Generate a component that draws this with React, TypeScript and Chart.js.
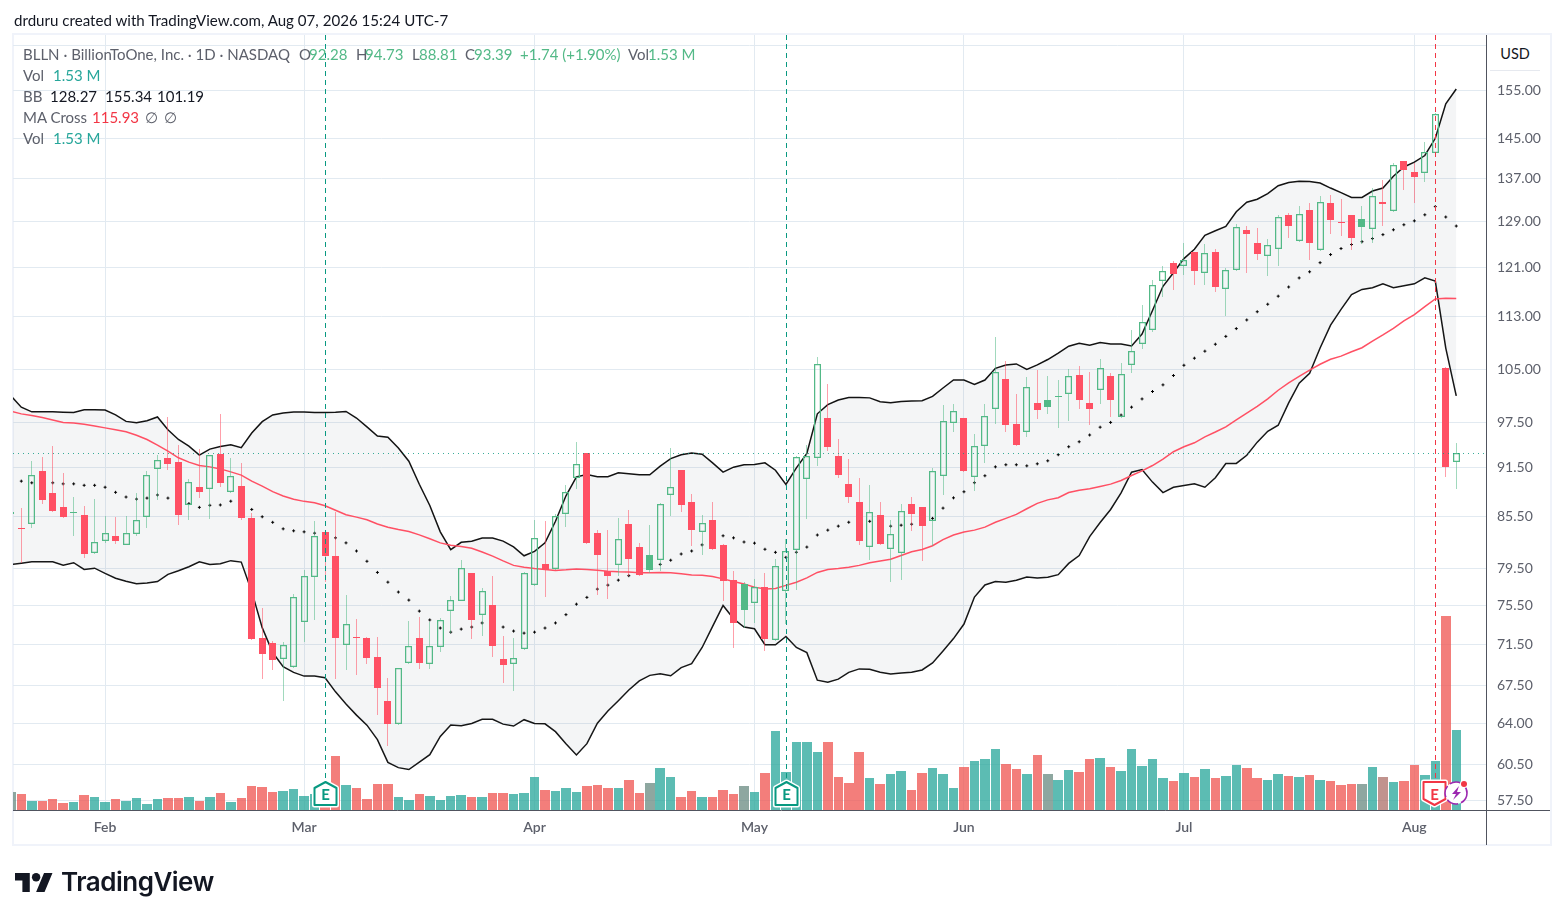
import React, { useEffect, useRef } from "react";
import { Chart, registerables } from "chart.js";

Chart.register(...registerables);

// ---------- chart data ----------
const opens = [
  86.0,84.1,84.66,91.16,88.39,86.63,85.95,85.62,81.19,82.67,
  83.2,82.21,83.48,85.42,91.33,92.72,92.2,86.92,89.15,88.81,
  93.24,88.43,89.27,85.27,72.15,71.64,70.04,69.26,73.78,78.54,
  83.68,80.93,71.4,72.25,72.15,70.27,66.07,64,69.71,72.15,
  69.6,71.27,74.88,76.02,79,74.5,75.57,70.07,69.55,71.08,
  77.68,80,79.46,85.79,90.22,93.48,83.6,79.25,79.93,84.6,
  81.98,81.05,80.5,88.1,91.17,87.2,83.64,85.11,82.21,78.25,
  77.82,75.8,77.5,71.98,77,81.55,90.12,92.8,98.15,93.07,
  89.42,87.25,81.92,85.67,81.69,81.23,87.04,86.63,84.92,90.5,
  97.37,98.1,90.37,94.33,99.29,103.63,97.28,96.15,100.2,100.58,
  101.15,101.41,104.2,100.23,101.98,104.06,98.3,105.7,108.85,110.95,
  118.76,121.75,121.35,123.67,120.16,123.67,117.46,120.6,127.5,125.23,
  123.03,124.24,130.2,125.64,131.1,124.13,132.54,129.05,130.18,129.62,
  127.78,132.35,131.05,140.38,138.24,138.1,142,105.2,92.28,
];
const highs = [
  86.5,86.5,92.33,92.85,94.28,90.91,87.89,86.76,87.64,85.5,
  85.39,85.5,88.39,91.16,93.1,98.2,94.41,90.15,93.89,93.2,
  98.6,92.72,92.07,85.97,75.26,71.85,71.74,76.7,79.32,84.99,
  83.7,86.04,76.6,74.12,72.2,72.26,68.2,69.2,73.9,74.33,
  73.82,74.17,76.5,80.47,79,77.4,78.68,72.37,72.15,79.1,
  85.09,85,85.85,89.31,94.85,93.5,83.95,83.95,85.33,86.33,
  82.37,84.53,87.15,94.14,91.2,88.2,85.71,87.2,82.25,79.2,
  78.03,78.36,79,80.58,82.8,93,94.5,106.9,102.9,95.33,
  92.59,90.17,89.29,87.29,85.08,87.04,87.91,86.65,91.5,99.93,
  100.07,98.15,95.98,100.07,109.87,106.18,101.4,103.9,104.9,104.06,
  103.49,105,105.5,104.6,106.55,104.5,106,110.9,114.85,118.9,
  121.35,122.1,125.23,123.7,125.05,124.2,121,128.7,128.35,127.84,
  125.95,130.2,130.55,131.85,132.4,133.7,133.9,133.15,130.2,131.85,
  135.2,136.7,140.1,140.4,140,144.3,150.2,105.3,94.73,
];
const lows = [
  85.5,80.08,84.16,87.0,86.1,85.3,83.2,80.72,81.15,82.37,
  82.29,82.2,83.2,84.12,87.43,91.29,84.47,85.08,87.76,85.2,
  89.15,88.4,85.04,71.95,68.15,68.99,66.1,69.2,71.74,73.95,
  78.0,68.15,69.03,68.54,69.58,64.8,62.02,63.95,69.6,69.09,
  69.09,70.75,72.7,76,72.05,72.37,70.27,67.73,67.01,71.05,
  77.6,76.36,79.4,84.22,88.81,82.35,76.57,76.21,78.71,78.71,
  78.71,78.96,79.18,85.58,86.08,82.09,81.05,81.7,76,71.1,
  73.2,73.7,70.85,71.95,73.6,77.18,85.19,91.7,93.67,90.2,
  87.08,82.1,80.46,82.2,78.07,78.29,83.73,80.39,82,88.16,
  96.15,91,88.54,92.07,97.33,96.24,94.33,95.5,97.97,98.68,
  96.8,97.74,99.3,97.12,100.1,98.26,98.25,104.48,108.05,110.65,
  116.2,117.37,119.71,118.05,118.05,117.05,113.17,120.55,120.2,122.3,
  119.55,121.23,126.1,125.6,122.33,124.1,126.8,126.5,124.02,125.06,
  125.29,128.2,131,134.83,132.42,136.5,141.9,90.3,88.81,
];
const closes = [
  85.8,84.0,90.62,87.52,86.13,85.39,86.0,81.15,82.48,83.5,
  82.63,83.5,85.12,90.62,92.54,91.94,85.62,89.74,88.52,93.2,
  89.65,90.49,85.27,72.05,70.56,69.97,71.4,76.36,78.64,83.2,
  80.85,72.19,73.57,72.2,70.17,67.26,63.97,69.16,71.3,69.68,
  71.3,73.99,76.05,79.6,74.03,77.04,71.34,69.48,70.14,78.96,
  82.98,79.39,85.54,88.52,92.02,82.44,81.05,78.68,82.87,80.58,
  78.79,79.32,87.03,89.14,86.82,83.95,84.73,81.75,78.14,73.7,
  75.05,77.46,72.05,79.8,81.46,92.92,93.07,105.85,94.2,90.58,
  87.91,82.57,86.08,82.23,83.42,86.13,85.83,84.42,91.12,97.76,
  99.06,91.04,94.37,98.35,104.62,97.15,94.41,102.45,99.24,99.68,
  101.2,104.01,100.66,99.38,105.15,100.66,104.3,107.7,112.2,118.15,
  120.5,119.88,122.39,120.38,123.6,117.88,120.66,128.13,126.8,123.3,
  125,129.93,128.19,130.5,125.29,132.72,129.3,129,126.16,128.07,
  133.84,132.72,139.73,138.7,137.33,142.27,150,91.65,93.39,
];
const volumesM = [
  .344,.306,.179,.172,.21,.134,.153,.287,.249,.153,
  .21,.172,.23,.115,.21,.23,.23,.249,.172,.249,
  .325,.153,.23,.459,.44,.344,.363,.402,.268,.306,
  .255,1.033,.478,.421,.21,.497,.497,.249,.191,.306,
  .268,.191,.268,.287,.249,.249,.325,.325,.306,.325,
  .631,.383,.363,.421,.344,.459,.478,.421,.421,.574,
  .325,.516,.803,.631,.249,.363,.249,.249,.383,.306,
  .459,.344,.708,1.511,.727,1.3,1.3,1.109,1.3,.631,
  .516,1.109,.612,.497,.689,.746,.383,.708,.803,.689,
  .421,.822,.937,.975,1.167,.88,.784,.689,1.052,.689,
  .574,.765,.727,.975,.995,.822,.746,1.167,.842,.975,
  .612,.555,.708,.631,.784,.612,.65,.861,.803,.612,
  .574,.689,.65,.631,.669,.574,.555,.478,.497,.497,
  .822,.631,.536,.555,.861,.669,.937,3.71,1.53,
];
const bbUpper = [
  101.2,99.6,98.95,98.95,98.95,98.9,98.86,99.24,99.24,99.19,
  98.53,97.64,97.46,97.73,98.25,96.5,95.2,94.33,93.15,93.93,
  94.28,94.5,94.11,96.07,97.6,98.53,98.8,98.93,98.93,98.87,
  98.87,98.9,99.0,98.1,96.9,95.67,95.5,94.08,92.36,89.43,
  86.82,83.68,81.62,82.47,82.6,82.95,82.95,82.6,81.94,80.93,
  81.43,82.4,84.92,88.0,90.36,90.67,90.38,90.38,90.88,90.75,
  90.63,90.63,91.72,92.7,93.2,93.43,93.26,92.15,90.96,91.59,
  91.89,91.93,92.15,91.2,89.4,91.5,93.37,98.68,99.95,100.6,
  100.95,100.95,100.9,100.36,100.2,100.4,100.45,100.5,101.1,102.3,
  103.45,103.45,102.8,103.45,105.15,105.65,105.8,105,105.65,106.45,
  107.4,108.45,108.9,108.6,109,108.8,108.8,108.5,110.3,114,
  117.92,120.16,122.57,124.19,126.62,127.43,128.19,130.86,132.6,133.16,
  134.2,135.7,136.32,136.57,136.5,136.2,135.26,134.4,133.5,133.5,
  134.7,135.26,137.52,139.3,140.25,141.55,145,152.15,155.34,
];
const bbLower = [
  79.96,80.1,80.26,80.26,80.26,79.88,80.15,79.4,79.54,78.96,
  78.43,78.1,77.82,77.9,78.07,78.86,79.25,79.7,80.26,79.96,
  80.03,80.38,80.22,77,73.2,70.7,69.32,68.77,68.41,68.41,
  68.25,66.92,65.8,64.78,63.88,62.6,60.64,60.2,60.04,60.67,
  61.3,62.88,63.9,63.82,64.03,64.4,64.4,63.97,63.8,64.37,
  64.03,64,63.3,62.25,61.27,62.25,64.05,65.15,66.1,67.09,
  67.96,68.48,68.64,68.44,69.22,69.61,71.2,73.33,75.5,74.11,
  73.26,73.09,71.47,71.47,72.3,71.2,70.69,68.02,67.83,68.12,
  68.77,69.1,69.06,68.77,68.61,68.7,68.77,69,69.68,70.85,
  72.09,73.57,76.39,77.69,78.06,78,78.2,78.57,78.46,78.54,
  78.82,80.07,80.95,83.13,84.77,86.34,88.36,90.95,91.29,89.7,
  88.4,89.06,89.27,89.48,89.06,90.24,92.07,92.07,93.13,94.85,
  96.3,97.12,100.19,103,104.43,108.17,111.7,114.17,116.56,117.4,
  117.67,118.33,117.67,118,118.33,119.33,118.78,108.17,101.19,
];
const bbBasis = [
  90.0,89.82,89.61,89.6,89.61,89.48,89.48,89.3,89.3,89.06,
  88.43,87.85,87.6,87.72,88.1,87.72,87.43,87.05,86.59,86.84,
  86.88,87.34,87,86.34,85.46,84.8,84.03,83.8,83.68,83.53,
  83.25,82.98,82.4,81.47,80.31,79.07,78,76.93,76.07,74.91,
  73.99,73.16,72.74,73.05,73.26,73.68,73.5,73.26,72.85,72.64,
  72.74,73.16,73.68,74.54,75.64,76.36,77.25,77.68,78.22,78.71,
  79.5,79.89,79.96,80.43,81.13,81.47,82.17,82.8,83.22,82.98,
  82.5,82.37,81.67,81.32,80.75,81.33,81.92,83.31,83.88,84.35,
  84.81,84.9,84.92,84.7,84.35,84.46,84.58,84.88,85.27,86.5,
  87.75,88.5,89.62,90.5,91.63,91.9,91.9,91.76,92.02,92.41,
  93.2,94.24,94.9,95.8,96.85,97.5,98.5,99.6,100.75,101.8,
  102.75,104.1,105.6,106.65,107.7,108.75,109.95,111.15,112.5,113.8,
  115,116.3,117.8,119.3,120.33,121.87,123.26,124.3,125,125.5,
  126.04,126.74,127.6,128.5,129.2,130.3,131.8,129.9,128.27,
];
const maCross = [
  99.05,98.67,98.44,98.16,97.83,97.5,97.41,97.24,97.02,96.76,
  96.5,96.24,95.76,95.2,94.46,93.67,92.8,92.24,91.8,91.63,
  91.37,90.99,90.58,89.82,89.19,88.52,87.98,87.57,87.32,87.15,
  86.78,86.25,85.71,85.42,85.11,84.61,84.22,83.95,83.72,83.33,
  82.87,82.4,82.13,81.98,81.78,81.36,80.89,80.35,79.85,79.65,
  79.5,79.39,79.29,79.36,79.46,79.39,79.32,79.21,79.14,79.11,
  79.04,79.04,79.07,79.04,78.93,78.79,78.75,78.61,78.36,78.07,
  77.79,77.46,77.25,77.32,77.65,78.0,78.47,79.07,79.39,79.5,
  79.65,79.85,80.15,80.35,80.54,80.96,81.39,81.65,82.07,82.77,
  83.31,83.65,83.88,84.23,84.81,85.27,85.75,86.42,87.08,87.5,
  87.77,88.4,88.69,88.86,89.15,89.45,89.9,90.53,91.12,91.8,
  92.63,93.59,94.24,94.76,95.55,96.2,96.9,97.83,98.77,99.7,
  100.75,101.98,103.02,103.96,104.9,105.75,106.5,106.96,107.62,108.22,
  109.23,110.18,111.19,112.35,113.33,114.62,115.84,115.95,115.93,
];
const priceTicks = [165, 155, 145, 137, 129, 121, 113, 105, 97.5, 91.5, 85.5, 79.5, 75.5, 71.5, 67.5, 64, 60.5, 57.5];
const monthTickIndex = [9, 28, 50, 71, 91, 112, 134];
const monthLabels = ["Feb", "Mar", "Apr", "May", "Jun", "Jul", "Aug"];
const earningsBeat = [30, 74];
const earningsMiss = [136];
const lastSession = 138;

// ---------- styling ----------
const UI_FONT = "Lato, 'Noto Sans', sans-serif";
const UP = "#53B987";
const DOWN = "#FF5064";
const UP_WICK = "rgba(83,185,135,0.55)";
const DOWN_WICK = "rgba(255,80,100,0.55)";
const VOL_UP = "rgba(38,166,154,0.5)";
const VOL_DOWN = "rgba(239,83,80,0.5)";
const GRID = "#E2EAF1";
const GREY = "#5D606B";
const TEAL = "#089981";
const CRIMSON = "#F23645";

const idx = opens.map((_, i) => i);
const prevClose = (i: number) => (i === 0 ? closes[0] : closes[i - 1]);
const isUp = (i: number) => closes[i] >= prevClose(i);
const isHollow = (i: number) => closes[i] > opens[i] && closes[i] - opens[i] > 0.2;

const snapBars = {
  id: "snapBars",
  afterDatasetsUpdate(chart: any) {
    chart.data.datasets.forEach((ds: any, k: number) => {
      if (ds.type === "line") return;
      const w = ds.snapWidth;
      chart.getDatasetMeta(k).data.forEach((el: any) => {
        if (el.skip || !isFinite(el.x) || !isFinite(el.y) || !isFinite(el.base)) return;
        const left = Math.round(el.x - w / 2);
        const right = Math.max(left + 1, Math.round(el.x + w / 2));
        el.x = (left + right) / 2;
        el.width = right - left;
        const top = Math.round(Math.min(el.y, el.base));
        let bottom = Math.round(Math.max(el.y, el.base));
        if (bottom <= top) bottom = top + 1;
        el.y = top;
        el.base = bottom;
      });
    });
  },
};

const frame = {
  id: "frame",
  beforeDraw(chart: any) {
    const { ctx } = chart;
    ctx.save();
    ctx.fillStyle = "#fff";
    ctx.fillRect(0, 0, 1564, 920);
    ctx.strokeStyle = "#F0F3FA";
    ctx.lineWidth = 2;
    ctx.strokeRect(13, 34, 1538, 811);
    ctx.restore();
  },
  afterDatasetsDraw(chart: any) {
    const { ctx, chartArea: a, scales } = chart;
    const x = scales.x;
    const y = scales.y;
    const snapX = (i: number) => Math.round(x.getPixelForValue(i)) + 0.5;
    ctx.save();
    // last price line
    const py = Math.round(y.getPixelForValue(closes[lastSession])) + 0.5;
    ctx.strokeStyle = TEAL;
    ctx.globalAlpha = 0.8;
    ctx.lineWidth = 1;
    ctx.setLineDash([1, 4]);
    ctx.beginPath();
    ctx.moveTo(a.left, py);
    ctx.lineTo(a.right, py);
    ctx.stroke();
    ctx.globalAlpha = 1;
    // earnings verticals
    ctx.setLineDash([5, 4]);
    const vline = (i: number, c: string) => {
      const px = snapX(i);
      ctx.strokeStyle = c;
      ctx.beginPath();
      ctx.moveTo(px, a.top);
      ctx.lineTo(px, 782);
      ctx.stroke();
    };
    earningsBeat.forEach((i) => vline(i, TEAL));
    earningsMiss.forEach((i) => vline(i, CRIMSON));
    ctx.setLineDash([]);
    // axis rules
    ctx.strokeStyle = "#50535E";
    ctx.lineWidth = 1;
    ctx.beginPath();
    ctx.moveTo(a.left, 810.5);
    ctx.lineTo(1550, 810.5);
    ctx.moveTo(1486.5, a.top);
    ctx.lineTo(1486.5, 845);
    ctx.stroke();
    // earnings flags
    const flag = (cx: number, pts: number[][], c: string) => {
      const path = () => {
        ctx.beginPath();
        pts.forEach(([dx, yy], n) => (n ? ctx.lineTo(cx + dx, yy) : ctx.moveTo(cx + dx, yy)));
        ctx.closePath();
      };
      ctx.lineJoin = "round";
      path();
      ctx.strokeStyle = "#fff";
      ctx.lineWidth = 5;
      ctx.stroke();
      path();
      ctx.fillStyle = "#fff";
      ctx.fill();
      ctx.strokeStyle = c;
      ctx.lineWidth = 2;
      ctx.stroke();
      ctx.fillStyle = c;
      ctx.font = `700 15px ${UI_FONT}`;
      ctx.textAlign = "center";
      ctx.textBaseline = "middle";
      ctx.fillText("E", cx, 795);
    };
    const upPts = [[0, 782], [11, 788], [11, 805], [-11, 805], [-11, 788]];
    const downPts = [[-11, 782], [11, 782], [11, 799], [0, 805], [-11, 799]];
    earningsBeat.forEach((i) => flag(snapX(i), upPts, TEAL));
    earningsMiss.forEach((i) => flag(snapX(i) - 1, downPts, CRIMSON));
    // news badge
    const bx = Math.round(x.getPixelForValue(lastSession));
    const by = 793;
    ctx.beginPath();
    ctx.arc(bx, by, 11, 0, Math.PI * 2);
    ctx.fillStyle = "#fff";
    ctx.fill();
    ctx.strokeStyle = "#9C27B0";
    ctx.lineWidth = 1.6;
    ctx.setLineDash([12, 3]);
    ctx.stroke();
    ctx.setLineDash([]);
    ctx.fillStyle = "#9C27B0";
    ctx.beginPath();
    ctx.moveTo(bx + 3, by - 7);
    ctx.lineTo(bx - 4, by + 1);
    ctx.lineTo(bx, by + 1);
    ctx.lineTo(bx - 3, by + 7);
    ctx.lineTo(bx + 5, by - 1);
    ctx.lineTo(bx + 1, by - 1);
    ctx.closePath();
    ctx.fill();
    ctx.fillStyle = "#fff";
    ctx.beginPath();
    ctx.arc(bx + 8, by - 9, 4, 0, Math.PI * 2);
    ctx.fill();
    ctx.fillStyle = CRIMSON;
    ctx.beginPath();
    ctx.arc(bx + 8, by - 9, 3, 0, Math.PI * 2);
    ctx.fill();
    ctx.restore();
  },
};

const barDefaults = { type: "bar", grouped: false, borderSkipped: false, inflateAmount: 0 };

type Seg = [string, number, string];
const legendRows: { y: number; segs: Seg[] }[] = [
  {
    y: 54,
    segs: [
      ["BLLN · BillionToOne, Inc. · 1D · NASDAQ", 23, GREY],
      ["O", 299, GREY], ["92.28", 309, UP],
      ["H", 356, GREY], ["94.73", 365, UP],
      ["L", 412, GREY], ["88.81", 419, UP],
      ["C", 465, GREY], ["93.39", 474, UP],
      ["+1.74 (+1.90%)", 520, UP],
      ["Vol", 628, GREY], ["1.53 M", 648, UP],
    ],
  },
  { y: 75, segs: [["Vol", 23, GREY], ["1.53 M", 53, "#26A69A"]] },
  { y: 96, segs: [["BB", 23, GREY], ["128.27", 50, "#131722"], ["155.34", 105, "#131722"], ["101.19", 157, "#131722"]] },
  { y: 117, segs: [["MA Cross", 23, GREY], ["115.93", 92, CRIMSON], ["∅", 145, GREY], ["∅", 164, GREY]] },
  { y: 138, segs: [["Vol", 23, GREY], ["1.53 M", 53, "#26A69A"]] },
];

export default function App() {
  const ref = useRef<HTMLCanvasElement | null>(null);

  useEffect(() => {
    if (!ref.current) return;
    const lineOf = (vals: number[]) => idx.map((i) => ({ x: i, y: vals[i] }));
    const chart = new Chart(ref.current, {
      type: "bar",
      data: {
        datasets: [
          {
            ...barDefaults, label: "Vol", snapWidth: 9.5, order: 20, yAxisID: "yVol",
            data: idx.map((i) => ({ x: i, y: volumesM[i] })),
            backgroundColor: idx.map((i) => (closes[i] >= opens[i] ? VOL_UP : VOL_DOWN)),
          },
          {
            ...barDefaults, label: "Vol 2", snapWidth: 9.5, order: 19, yAxisID: "yVol",
            data: idx.map((i) => ({ x: i, y: volumesM[i] })),
            backgroundColor: idx.map((i) => (isUp(i) ? VOL_UP : VOL_DOWN)),
          },
          {
            type: "line", label: "BB upper", order: 15, yAxisID: "y",
            data: lineOf(bbUpper), borderColor: "#131313", borderWidth: 1.5, pointRadius: 0, tension: 0,
            fill: "+1", backgroundColor: "rgba(120,123,134,0.08)",
          },
          {
            type: "line", label: "BB lower", order: 15, yAxisID: "y",
            data: lineOf(bbLower), borderColor: "#131313", borderWidth: 1.5, pointRadius: 0, tension: 0, fill: false,
          },
          {
            type: "line", label: "MA Cross", order: 14, yAxisID: "y",
            data: lineOf(maCross), borderColor: "#FF5064", borderWidth: 1.5, pointRadius: 0, tension: 0, fill: false,
          },
          {
            type: "line", label: "BB basis", order: 13, yAxisID: "y",
            data: lineOf(bbBasis), showLine: false, pointStyle: "cross", pointRadius: 1.5,
            pointBorderColor: "#000", pointBorderWidth: 1, fill: false,
          },
          {
            ...barDefaults, label: "Upper wick", snapWidth: 1, order: 10, yAxisID: "y",
            data: idx.map((i) => {
              const t = Math.max(opens[i], closes[i]);
              return { x: i, y: highs[i] - t > 0.03 ? [t, highs[i]] : null };
            }),
            backgroundColor: idx.map((i) => (isUp(i) ? UP_WICK : DOWN_WICK)),
          },
          {
            ...barDefaults, label: "Lower wick", snapWidth: 1, order: 10, yAxisID: "y",
            data: idx.map((i) => {
              const b = Math.min(opens[i], closes[i]);
              return { x: i, y: b - lows[i] > 0.03 ? [lows[i], b] : null };
            }),
            backgroundColor: idx.map((i) => (isUp(i) ? UP_WICK : DOWN_WICK)),
          },
          {
            ...barDefaults, label: "Body", snapWidth: 7, order: 9, yAxisID: "y",
            data: idx.map((i) => ({ x: i, y: [Math.min(opens[i], closes[i]), Math.max(opens[i], closes[i])] })),
            backgroundColor: idx.map((i) => (isHollow(i) ? "rgba(0,0,0,0)" : isUp(i) ? UP : DOWN)),
            borderColor: idx.map((i) => (isUp(i) ? UP : DOWN)),
            borderWidth: idx.map((i) => (isHollow(i) ? 1.25 : 0)),
          },
        ] as any,
      },
      options: {
        responsive: false,
        animation: false,
        devicePixelRatio: 1,
        events: [],
        layout: { padding: { left: 13, top: 35, right: 14, bottom: 75 } },
        plugins: { legend: { display: false }, tooltip: { enabled: false } },
        scales: {
          x: {
            type: "linear",
            min: 0.207,
            max: 140.84,
            bounds: "data",
            offset: false,
            afterFit: (s: any) => { s.height = 35; },
            afterBuildTicks: (s: any) => { s.ticks = monthTickIndex.map((value) => ({ value })); },
            grid: { color: GRID, lineWidth: 1, drawTicks: false, offset: false },
            border: { display: false },
            ticks: {
              autoSkip: false,
              maxRotation: 0,
              padding: 9,
              color: GREY,
              font: { family: UI_FONT, size: 14, weight: 600 },
              callback: (v: any) => monthLabels[monthTickIndex.indexOf(v)] ?? "",
            },
          },
          y: {
            type: "logarithmic",
            position: "right",
            min: 56.74,
            max: 167.5,
            bounds: "data",
            afterFit: (s: any) => { s.width = 64; },
            afterBuildTicks: (s: any) => { s.ticks = priceTicks.map((value) => ({ value })); },
            grid: { color: GRID, lineWidth: 1, drawTicks: false },
            border: { display: false },
            ticks: {
              autoSkip: false,
              padding: 11,
              color: GREY,
              font: { family: UI_FONT, size: 14 },
              callback: (v: any) => (v >= 160 ? "" : Number(v).toFixed(2)),
            },
          },
          yVol: {
            type: "linear",
            display: false,
            min: 0,
            max: 14.82,
            grid: { display: false },
          },
        },
      } as any,
      plugins: [snapBars, frame] as any,
    });
    return () => chart.destroy();
  }, []);

  const abs: React.CSSProperties = { position: "absolute", whiteSpace: "pre", fontFamily: UI_FONT };

  return (
    <div style={{ position: "fixed", left: 0, top: 0, width: 1564, height: 920, background: "#fff", overflow: "hidden" }}>
      <canvas ref={ref} width={1564} height={920} style={{ position: "absolute", left: 0, top: 0, width: 1564, height: 920 }} />
      <div style={{ ...abs, left: 14, top: 10, lineHeight: "20px", fontSize: 15.1, color: "#131722" }}>
        drduru created with TradingView.com, Aug 07, 2026 15:24 UTC-7
      </div>
      {legendRows.map((row) =>
        row.segs.map(([text, left, color]) => (
          <span key={`${row.y}-${left}`} style={{ ...abs, left, top: row.y - 10, lineHeight: "20px", fontSize: 15, color }}>
            {text}
          </span>
        ))
      )}
      <div style={{ position: "absolute", fontFamily: UI_FONT, left: 1490, top: 38, width: 50, height: 32, lineHeight: "32px", textAlign: "center", fontSize: 14.5, color: "#131722", background: "#fff", borderBottom: "1px solid #E6E9EF" }}>
        USD
      </div>
      <svg style={{ position: "absolute", left: 15, top: 873 }} width="38" height="19" viewBox="0 4 36 18">
        <path d="M14 22H7V11H0V4h14v18zM28 22h-8l7.5-18h8L28 22z" fill="#131722" />
        <circle cx="20" cy="8" r="4" fill="#131722" />
      </svg>
      <div style={{ position: "absolute", whiteSpace: "pre", left: 61, top: 866, lineHeight: "32px", fontSize: 26, fontWeight: 600, fontFamily: "Inter, sans-serif", letterSpacing: -0.5, color: "#131722" }}>
        TradingView
      </div>
    </div>
  );
}
